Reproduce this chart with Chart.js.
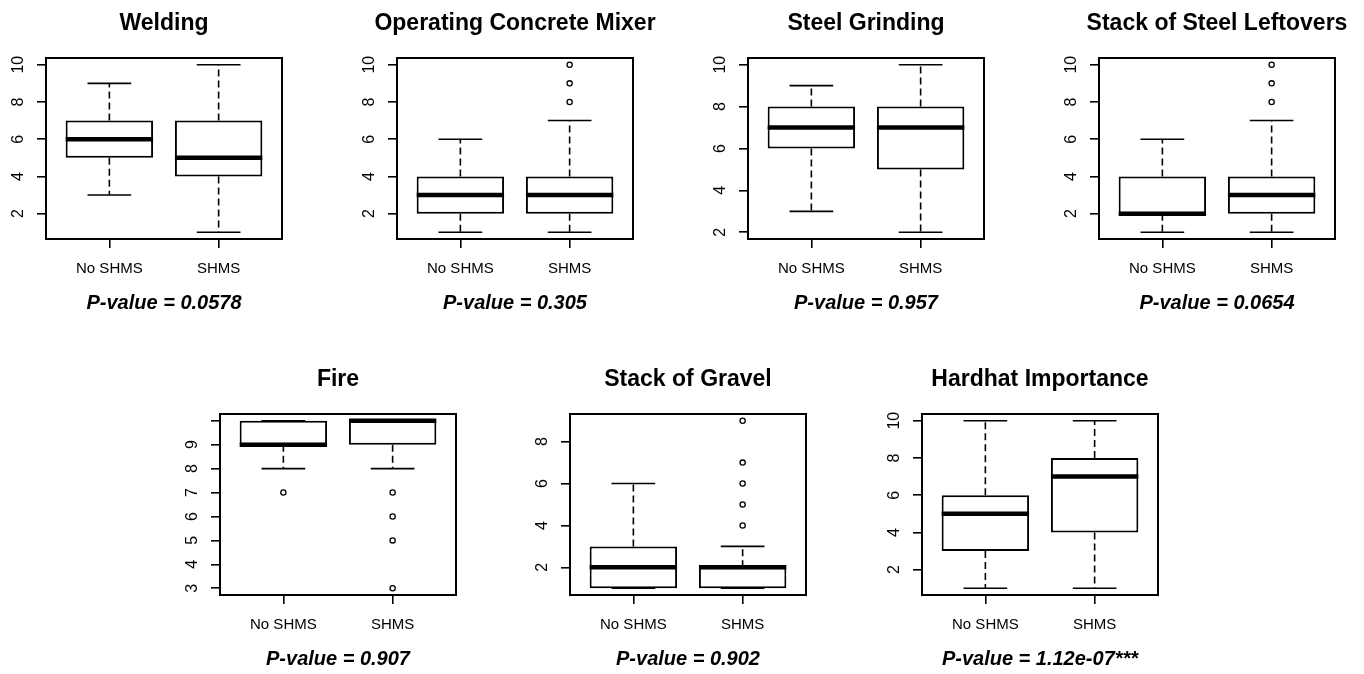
<!DOCTYPE html>
<html>
<head>
<meta charset="utf-8">
<script src="https://cdn.jsdelivr.net/npm/chart.js@4.4.1/dist/chart.umd.min.js"></script>
<style>
    html, body { margin: 0; padding: 0; background: #fff; overflow: hidden; width: 1364px; height: 674px; }
    .panel { position: absolute; }
</style>
</head>
<body>
<div id="root"></div>
<script>
const GROUPS = ['No SHMS', 'SHMS'];

const TITLES = [
    'Welding', 'Operating Concrete Mixer', 'Steel Grinding', 'Stack of Steel Leftovers',
    'Fire', 'Stack of Gravel', 'Hardhat Importance',
];
const P_VALUES = ['0.0578', '0.305', '0.957', '0.0654', '0.907', '0.902', '1.12e-07***'];

// one pair per panel: [No SHMS, SHMS]
const WHISKER_LOW  = [[3, 1], [1, 1], [3, 2], [1, 1], [8, 8],   [1, 1], [1, 1]];
const Q1           = [[5, 4], [2, 2], [6, 5], [2, 2], [9, 9],   [1, 1], [3, 4]];
const MEDIAN       = [[6, 5], [3, 3], [7, 7], [2, 3], [9, 10],  [2, 2], [5, 7]];
const Q3           = [[7, 7], [4, 4], [8, 8], [4, 4], [10, 10], [3, 2], [6, 8]];
const WHISKER_HIGH = [[9, 10], [6, 7], [9, 10], [6, 7], [10, 10], [6, 3], [10, 10]];
const OUTLIERS = [
    [[], []],
    [[], [8, 9, 10]],
    [[], []],
    [[], [8, 9, 10]],
    [[7], [7, 6, 5, 3]],
    [[], [4, 5, 6, 7, 9]],
    [[], []],
];

const Y_TICKS = [
    [2, 4, 6, 8, 10], [2, 4, 6, 8, 10], [2, 4, 6, 8, 10], [2, 4, 6, 8, 10],
    [3, 4, 5, 6, 7, 8, 9, 10], [2, 4, 6, 8], [2, 4, 6, 8, 10],
];
const Y_TICK_LABELS = [
    ['2', '4', '6', '8', '10'], ['2', '4', '6', '8', '10'], ['2', '4', '6', '8', '10'], ['2', '4', '6', '8', '10'],
    ['3', '4', '5', '6', '7', '8', '9', ''], ['2', '4', '6', '8'], ['2', '4', '6', '8', '10'],
];

// layout: top-left corner of each plot frame on the page
const PLOT_ORIGIN = [[46, 58], [397, 58], [748, 58], [1099, 58], [220, 414], [570, 414], [922, 414]];
const M = { left: 50, right: 50, top: 58, axis: 40, bottom: 50 };
const PLOT = { w: 236, h: 181 };
const FONT = 'Liberation Sans, Arial, Helvetica, sans-serif';

Chart.defaults.font.family = FONT;
Chart.defaults.color = '#000';

function seg(ctx, x1, y1, x2, y2) {
    ctx.beginPath();
    ctx.moveTo(x1, y1);
    ctx.lineTo(x2, y2);
    ctx.stroke();
}

// whiskers, staples, medians, frame and the texts, like R's boxplot()
const boxplotR = {
    id: 'boxplotR',
    afterDatasetsDraw(chart, args, opts) {
        const { ctx, scales: { x, y } } = chart;
        const k = opts.panel;
        ctx.save();
        ctx.strokeStyle = '#000';
        GROUPS.forEach((g, i) => {
            const pos = i + 1;
            const cx = x.getPixelForValue(pos);
            ctx.lineWidth = 1.6;
            ctx.setLineDash([7, 4]);
            if (WHISKER_HIGH[k][i] > Q3[k][i]) {
                seg(ctx, cx, y.getPixelForValue(Q3[k][i]), cx, y.getPixelForValue(WHISKER_HIGH[k][i]));
            }
            if (WHISKER_LOW[k][i] < Q1[k][i]) {
                seg(ctx, cx, y.getPixelForValue(Q1[k][i]), cx, y.getPixelForValue(WHISKER_LOW[k][i]));
            }
            ctx.setLineDash([]);
            [WHISKER_LOW[k][i], WHISKER_HIGH[k][i]].forEach(v => {
                const py = y.getPixelForValue(v);
                seg(ctx, x.getPixelForValue(pos - 0.2), py, x.getPixelForValue(pos + 0.2), py);
            });
            ctx.lineWidth = 4.5;
            const my = y.getPixelForValue(MEDIAN[k][i]);
            seg(ctx, x.getPixelForValue(pos - 0.4), my, x.getPixelForValue(pos + 0.4), my);
        });
        ctx.restore();
    },
    afterDraw(chart, args, opts) {
        const { ctx, chartArea: a, scales: { y } } = chart;
        const k = opts.panel;
        const mid = (a.left + a.right) / 2;
        ctx.save();
        ctx.strokeStyle = '#000';
        ctx.lineWidth = 2;
        ctx.strokeRect(a.left, a.top, a.right - a.left, a.bottom - a.top);

        ctx.fillStyle = '#000';
        ctx.font = `16px ${FONT}`;
        ctx.textAlign = 'center';
        ctx.textBaseline = 'middle';
        Y_TICKS[k].forEach((v, j) => {
            ctx.save();
            ctx.translate(a.left - 27, y.getPixelForValue(v));
            ctx.rotate(-Math.PI / 2);
            ctx.fillText(Y_TICK_LABELS[k][j], 0, 0);
            ctx.restore();
        });

        ctx.textBaseline = 'alphabetic';
        ctx.font = `bold 23px ${FONT}`;
        ctx.fillText(TITLES[k], mid, a.top - 28);
        ctx.font = `italic bold 20px ${FONT}`;
        ctx.fillText(`P-value = ${P_VALUES[k]}`, mid, a.bottom + 70);
        ctx.restore();
    },
};

const root = document.getElementById('root');

TITLES.forEach((title, k) => {
    const values = [...WHISKER_LOW[k], ...WHISKER_HIGH[k], ...OUTLIERS[k].flat()];
    const lo = Math.min(...values);
    const hi = Math.max(...values);
    const pad = 0.04 * (hi - lo);

    const div = document.createElement('div');
    div.className = 'panel';
    div.style.left = (PLOT_ORIGIN[k][0] - M.left) + 'px';
    div.style.top = (PLOT_ORIGIN[k][1] - M.top) + 'px';
    const canvas = document.createElement('canvas');
    canvas.width = M.left + PLOT.w + M.right;
    canvas.height = M.top + PLOT.h + M.axis + M.bottom;
    div.appendChild(canvas);
    root.appendChild(div);

    const tickGrid = { drawOnChartArea: false, drawTicks: true, tickLength: 9, color: '#000', lineWidth: 1.6, offset: false };

    new Chart(canvas.getContext('2d'), {
        type: 'bar',
        data: {
            datasets: [
                {
                    data: GROUPS.map((g, i) => ({ x: i + 1, y: [Q1[k][i], Q3[k][i]] })),
                    backgroundColor: '#fff',
                    borderColor: '#000',
                    borderWidth: 2,
                    borderSkipped: false,
                    categoryPercentage: 0.8,
                    barPercentage: 1,
                },
                {
                    type: 'scatter',
                    data: OUTLIERS[k].flatMap((list, i) => list.map(v => ({ x: i + 1, y: v }))),
                    pointStyle: 'circle',
                    pointRadius: 2.6,
                    borderWidth: 1.3,
                    borderColor: '#000',
                    backgroundColor: '#fff',
                },
            ],
        },
        options: {
            responsive: false,
            animation: false,
            events: [],
            layout: { padding: { left: 0, right: M.right, top: M.top, bottom: M.bottom } },
            scales: {
                x: {
                    type: 'linear',
                    min: 0.42,
                    max: 2.58,
                    offset: false,
                    afterBuildTicks: s => { s.ticks = GROUPS.map((g, i) => ({ value: i + 1 })); },
                    afterFit: s => { s.height = M.axis; },
                    ticks: {
                        callback: v => GROUPS[v - 1],
                        font: { size: 15 },
                        color: '#000',
                        padding: 12,
                        autoSkip: false,
                        maxRotation: 0,
                    },
                    grid: tickGrid,
                    border: { display: false },
                },
                y: {
                    type: 'linear',
                    min: lo - pad,
                    max: hi + pad,
                    afterBuildTicks: s => { s.ticks = Y_TICKS[k].map(v => ({ value: v })); },
                    afterFit: s => { s.width = M.left; },
                    ticks: { display: false },
                    grid: tickGrid,
                    border: { display: false },
                },
            },
            plugins: {
                legend: { display: false },
                tooltip: { enabled: false },
                boxplotR: { panel: k },
            },
        },
        plugins: [boxplotR],
    });
});
</script>
</body>
</html>
